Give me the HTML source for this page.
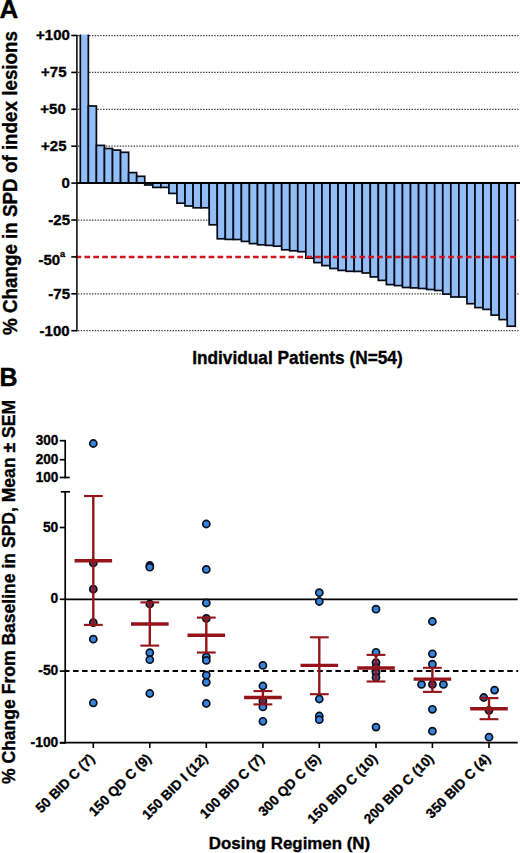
<!DOCTYPE html>
<html><head><meta charset="utf-8"><style>
html,body{margin:0;padding:0;background:#fff;}
svg{display:block;}
text{font-family:"Liberation Sans", sans-serif;fill:#000;stroke:#000;stroke-width:0.35px;}
</style></head><body>
<svg width="520" height="853" viewBox="0 0 520 853">
<rect width="520" height="853" fill="#fff"/>
<line x1="78" y1="35.5" x2="518.5" y2="35.5" stroke="#3a3a3a" stroke-width="1.25" stroke-dasharray="1.4 1.38"/>
<line x1="78" y1="72.4" x2="518.5" y2="72.4" stroke="#3a3a3a" stroke-width="1.25" stroke-dasharray="1.4 1.38"/>
<line x1="78" y1="109.3" x2="518.5" y2="109.3" stroke="#3a3a3a" stroke-width="1.25" stroke-dasharray="1.4 1.38"/>
<line x1="78" y1="146.2" x2="518.5" y2="146.2" stroke="#3a3a3a" stroke-width="1.25" stroke-dasharray="1.4 1.38"/>
<line x1="78" y1="220.0" x2="518.5" y2="220.0" stroke="#3a3a3a" stroke-width="1.25" stroke-dasharray="1.4 1.38"/>
<line x1="78" y1="293.8" x2="518.5" y2="293.8" stroke="#3a3a3a" stroke-width="1.25" stroke-dasharray="1.4 1.38"/>
<line x1="78" y1="330.7" x2="518.5" y2="330.7" stroke="#3a3a3a" stroke-width="1.25" stroke-dasharray="1.4 1.38"/>
<rect x="80.30" y="34.60" width="8.05" height="148.50" fill="#92bef5"/>
<path d="M80.30 34.60 V183.10 H88.35 V34.60" fill="none" stroke="#050a18" stroke-width="1.7"/>
<rect x="88.35" y="106.00" width="8.05" height="77.10" fill="#92bef5" stroke="#050a18" stroke-width="1.7"/>
<rect x="96.41" y="145.40" width="8.05" height="37.70" fill="#92bef5" stroke="#050a18" stroke-width="1.7"/>
<rect x="104.47" y="148.50" width="8.05" height="34.60" fill="#92bef5" stroke="#050a18" stroke-width="1.7"/>
<rect x="112.52" y="150.10" width="8.05" height="33.00" fill="#92bef5" stroke="#050a18" stroke-width="1.7"/>
<rect x="120.57" y="152.30" width="8.05" height="30.80" fill="#92bef5" stroke="#050a18" stroke-width="1.7"/>
<rect x="128.63" y="172.60" width="8.05" height="10.50" fill="#92bef5" stroke="#050a18" stroke-width="1.7"/>
<rect x="136.69" y="176.30" width="8.05" height="6.80" fill="#92bef5" stroke="#050a18" stroke-width="1.7"/>
<rect x="144.74" y="183.10" width="8.05" height="1.90" fill="#92bef5" stroke="#050a18" stroke-width="1.7"/>
<rect x="152.80" y="183.10" width="8.05" height="4.30" fill="#92bef5" stroke="#050a18" stroke-width="1.7"/>
<rect x="160.85" y="183.10" width="8.05" height="4.30" fill="#92bef5" stroke="#050a18" stroke-width="1.7"/>
<rect x="168.90" y="183.10" width="8.05" height="10.30" fill="#92bef5" stroke="#050a18" stroke-width="1.7"/>
<rect x="176.96" y="183.10" width="8.05" height="20.10" fill="#92bef5" stroke="#050a18" stroke-width="1.7"/>
<rect x="185.01" y="183.10" width="8.05" height="22.90" fill="#92bef5" stroke="#050a18" stroke-width="1.7"/>
<rect x="193.07" y="183.10" width="8.05" height="24.70" fill="#92bef5" stroke="#050a18" stroke-width="1.7"/>
<rect x="201.12" y="183.10" width="8.05" height="24.70" fill="#92bef5" stroke="#050a18" stroke-width="1.7"/>
<rect x="209.18" y="183.10" width="8.05" height="41.70" fill="#92bef5" stroke="#050a18" stroke-width="1.7"/>
<rect x="217.24" y="183.10" width="8.05" height="55.70" fill="#92bef5" stroke="#050a18" stroke-width="1.7"/>
<rect x="225.29" y="183.10" width="8.05" height="56.30" fill="#92bef5" stroke="#050a18" stroke-width="1.7"/>
<rect x="233.34" y="183.10" width="8.05" height="56.40" fill="#92bef5" stroke="#050a18" stroke-width="1.7"/>
<rect x="241.40" y="183.10" width="8.05" height="58.30" fill="#92bef5" stroke="#050a18" stroke-width="1.7"/>
<rect x="249.45" y="183.10" width="8.05" height="60.50" fill="#92bef5" stroke="#050a18" stroke-width="1.7"/>
<rect x="257.51" y="183.10" width="8.05" height="61.70" fill="#92bef5" stroke="#050a18" stroke-width="1.7"/>
<rect x="265.56" y="183.10" width="8.05" height="62.30" fill="#92bef5" stroke="#050a18" stroke-width="1.7"/>
<rect x="273.62" y="183.10" width="8.05" height="63.10" fill="#92bef5" stroke="#050a18" stroke-width="1.7"/>
<rect x="281.68" y="183.10" width="8.05" height="66.70" fill="#92bef5" stroke="#050a18" stroke-width="1.7"/>
<rect x="289.73" y="183.10" width="8.05" height="67.70" fill="#92bef5" stroke="#050a18" stroke-width="1.7"/>
<rect x="297.78" y="183.10" width="8.05" height="68.60" fill="#92bef5" stroke="#050a18" stroke-width="1.7"/>
<rect x="305.84" y="183.10" width="8.05" height="75.10" fill="#92bef5" stroke="#050a18" stroke-width="1.7"/>
<rect x="313.89" y="183.10" width="8.05" height="79.50" fill="#92bef5" stroke="#050a18" stroke-width="1.7"/>
<rect x="321.95" y="183.10" width="8.05" height="82.50" fill="#92bef5" stroke="#050a18" stroke-width="1.7"/>
<rect x="330.00" y="183.10" width="8.05" height="85.40" fill="#92bef5" stroke="#050a18" stroke-width="1.7"/>
<rect x="338.06" y="183.10" width="8.05" height="87.30" fill="#92bef5" stroke="#050a18" stroke-width="1.7"/>
<rect x="346.12" y="183.10" width="8.05" height="88.20" fill="#92bef5" stroke="#050a18" stroke-width="1.7"/>
<rect x="354.17" y="183.10" width="8.05" height="88.30" fill="#92bef5" stroke="#050a18" stroke-width="1.7"/>
<rect x="362.23" y="183.10" width="8.05" height="89.90" fill="#92bef5" stroke="#050a18" stroke-width="1.7"/>
<rect x="370.28" y="183.10" width="8.05" height="93.80" fill="#92bef5" stroke="#050a18" stroke-width="1.7"/>
<rect x="378.33" y="183.10" width="8.05" height="97.30" fill="#92bef5" stroke="#050a18" stroke-width="1.7"/>
<rect x="386.39" y="183.10" width="8.05" height="101.50" fill="#92bef5" stroke="#050a18" stroke-width="1.7"/>
<rect x="394.44" y="183.10" width="8.05" height="102.50" fill="#92bef5" stroke="#050a18" stroke-width="1.7"/>
<rect x="402.50" y="183.10" width="8.05" height="104.40" fill="#92bef5" stroke="#050a18" stroke-width="1.7"/>
<rect x="410.56" y="183.10" width="8.05" height="104.80" fill="#92bef5" stroke="#050a18" stroke-width="1.7"/>
<rect x="418.61" y="183.10" width="8.05" height="105.40" fill="#92bef5" stroke="#050a18" stroke-width="1.7"/>
<rect x="426.67" y="183.10" width="8.05" height="106.40" fill="#92bef5" stroke="#050a18" stroke-width="1.7"/>
<rect x="434.72" y="183.10" width="8.05" height="107.40" fill="#92bef5" stroke="#050a18" stroke-width="1.7"/>
<rect x="442.77" y="183.10" width="8.05" height="111.00" fill="#92bef5" stroke="#050a18" stroke-width="1.7"/>
<rect x="450.83" y="183.10" width="8.05" height="113.90" fill="#92bef5" stroke="#050a18" stroke-width="1.7"/>
<rect x="458.88" y="183.10" width="8.05" height="113.90" fill="#92bef5" stroke="#050a18" stroke-width="1.7"/>
<rect x="466.94" y="183.10" width="8.05" height="120.60" fill="#92bef5" stroke="#050a18" stroke-width="1.7"/>
<rect x="475.00" y="183.10" width="8.05" height="124.50" fill="#92bef5" stroke="#050a18" stroke-width="1.7"/>
<rect x="483.05" y="183.10" width="8.05" height="126.30" fill="#92bef5" stroke="#050a18" stroke-width="1.7"/>
<rect x="491.11" y="183.10" width="8.05" height="132.00" fill="#92bef5" stroke="#050a18" stroke-width="1.7"/>
<rect x="499.16" y="183.10" width="8.05" height="136.50" fill="#92bef5" stroke="#050a18" stroke-width="1.7"/>
<rect x="507.21" y="183.10" width="8.05" height="143.10" fill="#92bef5" stroke="#050a18" stroke-width="1.7"/>
<line x1="76.9" y1="183.1" x2="520" y2="183.1" stroke="#000" stroke-width="2"/>
<line x1="75.55" y1="257.1" x2="516" y2="257.1" stroke="#d3141e" stroke-width="2.5" stroke-dasharray="5.7 3.171"/>
<line x1="76.9" y1="34.7" x2="76.9" y2="331.5" stroke="#000" stroke-width="1.5"/>
<line x1="71.3" y1="35.5" x2="76.9" y2="35.5" stroke="#000" stroke-width="1.6"/>
<text x="69.9" y="40.3" font-size="15" text-anchor="end" font-weight="bold">+100</text>
<line x1="71.3" y1="72.4" x2="76.9" y2="72.4" stroke="#000" stroke-width="1.6"/>
<text x="66.5" y="77.2" font-size="15" text-anchor="end" font-weight="bold">+75</text>
<line x1="71.3" y1="109.3" x2="76.9" y2="109.3" stroke="#000" stroke-width="1.6"/>
<text x="65.8" y="114.1" font-size="15" text-anchor="end" font-weight="bold">+50</text>
<line x1="71.3" y1="146.2" x2="76.9" y2="146.2" stroke="#000" stroke-width="1.6"/>
<text x="66.5" y="151.0" font-size="15" text-anchor="end" font-weight="bold">+25</text>
<line x1="71.3" y1="183.1" x2="76.9" y2="183.1" stroke="#000" stroke-width="1.6"/>
<text x="69.8" y="187.9" font-size="15" text-anchor="end" font-weight="bold">0</text>
<line x1="71.3" y1="220.0" x2="76.9" y2="220.0" stroke="#000" stroke-width="1.6"/>
<text x="70.0" y="224.8" font-size="15" text-anchor="end" font-weight="bold">-25</text>
<line x1="71.3" y1="256.9" x2="76.9" y2="256.9" stroke="#000" stroke-width="1.6"/>
<text x="60.1" y="264.6" font-size="15" text-anchor="end" font-weight="bold">-50</text>
<text x="60.0" y="257.3" font-size="9.2" font-weight="bold">a</text>
<line x1="71.3" y1="293.8" x2="76.9" y2="293.8" stroke="#000" stroke-width="1.6"/>
<text x="70.0" y="298.6" font-size="15" text-anchor="end" font-weight="bold">-75</text>
<line x1="71.3" y1="330.7" x2="76.9" y2="330.7" stroke="#000" stroke-width="1.6"/>
<text x="69.6" y="335.5" font-size="15" text-anchor="end" font-weight="bold">-100</text>
<text x="-0.6" y="17.8" font-size="26" font-weight="bold">A</text>
<text transform="translate(17.2,335) rotate(-90)" font-size="20" font-weight="bold" textLength="304" lengthAdjust="spacingAndGlyphs">% Change in SPD of index lesions</text>
<text x="192.2" y="364.2" font-size="17.6" font-weight="bold" textLength="210.5" lengthAdjust="spacingAndGlyphs">Individual Patients (N=54)</text>
<text x="-0.6" y="386" font-size="25" font-weight="bold">B</text>
<text transform="translate(14.8,784) rotate(-90)" font-size="18" font-weight="bold" textLength="384" lengthAdjust="spacingAndGlyphs">% Change From Baseline in SPD, Mean ± SEM</text>
<line x1="65.2" y1="599.3" x2="517.7" y2="599.3" stroke="#000" stroke-width="1.7"/>
<line x1="65.2" y1="671.1" x2="518.2" y2="671.1" stroke="#000" stroke-width="2" stroke-dasharray="5.5 3.546" stroke-dashoffset="1.2"/>
<line x1="59.800000000000004" y1="742.7" x2="517.7" y2="742.7" stroke="#000" stroke-width="1.7"/>
<line x1="65.2" y1="491.8" x2="65.2" y2="743.5" stroke="#000" stroke-width="1.7"/>
<line x1="60.8" y1="491.8" x2="70" y2="491.8" stroke="#000" stroke-width="1.7"/>
<line x1="59.8" y1="527.5" x2="65.2" y2="527.5" stroke="#000" stroke-width="1.7"/>
<text transform="translate(58.3,531.6) scale(0.95,1)" font-size="14.6" text-anchor="end" font-weight="bold">50</text>
<line x1="59.8" y1="599.3" x2="65.2" y2="599.3" stroke="#000" stroke-width="1.7"/>
<text transform="translate(58.3,603.4) scale(0.95,1)" font-size="14.6" text-anchor="end" font-weight="bold">0</text>
<line x1="59.8" y1="671.1" x2="65.2" y2="671.1" stroke="#000" stroke-width="1.7"/>
<text transform="translate(58.3,675.2) scale(0.95,1)" font-size="14.6" text-anchor="end" font-weight="bold">-50</text>
<line x1="59.8" y1="742.9" x2="65.2" y2="742.9" stroke="#000" stroke-width="1.7"/>
<text transform="translate(58.3,747.0) scale(0.95,1)" font-size="14.6" text-anchor="end" font-weight="bold">-100</text>
<line x1="65.2" y1="439.9" x2="65.2" y2="478.3" stroke="#000" stroke-width="1.7"/>
<line x1="65.2" y1="477.5" x2="69.8" y2="477.5" stroke="#000" stroke-width="1.7"/>
<line x1="59.8" y1="440.7" x2="65.2" y2="440.7" stroke="#000" stroke-width="1.7"/>
<text transform="translate(58.4,444.9) scale(0.965,1)" font-size="14.1" text-anchor="end" font-weight="bold">300</text>
<line x1="59.8" y1="459.7" x2="65.2" y2="459.7" stroke="#000" stroke-width="1.7"/>
<text transform="translate(58.4,464.3) scale(0.965,1)" font-size="14.1" text-anchor="end" font-weight="bold">200</text>
<line x1="59.8" y1="477.5" x2="65.2" y2="477.5" stroke="#000" stroke-width="1.7"/>
<text transform="translate(58.4,482.4) scale(0.965,1)" font-size="14.1" text-anchor="end" font-weight="bold">100</text>
<circle cx="93.3" cy="443.5" r="3.55" fill="#3884dc" stroke="#07101e" stroke-width="1.7"/>
<circle cx="93.3" cy="563" r="3.55" fill="#5c3c66" stroke="#07101e" stroke-width="1.7"/>
<circle cx="93.3" cy="589.2" r="3.55" fill="#5c3c66" stroke="#07101e" stroke-width="1.7"/>
<circle cx="93.3" cy="622.7" r="3.55" fill="#5c3c66" stroke="#07101e" stroke-width="1.7"/>
<circle cx="93.3" cy="639.2" r="3.55" fill="#3884dc" stroke="#07101e" stroke-width="1.7"/>
<circle cx="93.3" cy="702.8" r="3.55" fill="#3884dc" stroke="#07101e" stroke-width="1.7"/>
<circle cx="149.8" cy="565.5" r="3.55" fill="#3884dc" stroke="#07101e" stroke-width="1.7"/>
<circle cx="149.8" cy="567.2" r="3.55" fill="#3884dc" stroke="#07101e" stroke-width="1.7"/>
<circle cx="149.8" cy="604" r="3.55" fill="#5c3c66" stroke="#07101e" stroke-width="1.7"/>
<circle cx="149.8" cy="652.7" r="3.55" fill="#3884dc" stroke="#07101e" stroke-width="1.7"/>
<circle cx="149.8" cy="659.7" r="3.55" fill="#3884dc" stroke="#07101e" stroke-width="1.7"/>
<circle cx="149.8" cy="693.5" r="3.55" fill="#3884dc" stroke="#07101e" stroke-width="1.7"/>
<circle cx="206.3" cy="524.0" r="3.55" fill="#3884dc" stroke="#07101e" stroke-width="1.7"/>
<circle cx="206.3" cy="569.4" r="3.55" fill="#3884dc" stroke="#07101e" stroke-width="1.7"/>
<circle cx="206.3" cy="603" r="3.55" fill="#3884dc" stroke="#07101e" stroke-width="1.7"/>
<circle cx="206.3" cy="618.4" r="3.55" fill="#5c3c66" stroke="#07101e" stroke-width="1.7"/>
<circle cx="206.3" cy="656.9" r="3.55" fill="#3884dc" stroke="#07101e" stroke-width="1.7"/>
<circle cx="206.3" cy="660.4" r="3.55" fill="#3884dc" stroke="#07101e" stroke-width="1.7"/>
<circle cx="206.3" cy="675.2" r="3.55" fill="#3884dc" stroke="#07101e" stroke-width="1.7"/>
<circle cx="206.3" cy="682.3" r="3.55" fill="#3884dc" stroke="#07101e" stroke-width="1.7"/>
<circle cx="206.3" cy="703.5" r="3.55" fill="#3884dc" stroke="#07101e" stroke-width="1.7"/>
<circle cx="262.9" cy="665.4" r="3.55" fill="#3884dc" stroke="#07101e" stroke-width="1.7"/>
<circle cx="262.9" cy="686" r="3.55" fill="#3884dc" stroke="#07101e" stroke-width="1.7"/>
<circle cx="262.9" cy="701.2" r="3.55" fill="#5c3c66" stroke="#07101e" stroke-width="1.7"/>
<circle cx="262.9" cy="706.9" r="3.55" fill="#3884dc" stroke="#07101e" stroke-width="1.7"/>
<circle cx="262.9" cy="721.3" r="3.55" fill="#3884dc" stroke="#07101e" stroke-width="1.7"/>
<circle cx="319.3" cy="592.7" r="3.55" fill="#3884dc" stroke="#07101e" stroke-width="1.7"/>
<circle cx="319.3" cy="601.5" r="3.55" fill="#3884dc" stroke="#07101e" stroke-width="1.7"/>
<circle cx="319.3" cy="699" r="3.55" fill="#3884dc" stroke="#07101e" stroke-width="1.7"/>
<circle cx="319.3" cy="716" r="3.55" fill="#3884dc" stroke="#07101e" stroke-width="1.7"/>
<circle cx="319.3" cy="719.7" r="3.55" fill="#3884dc" stroke="#07101e" stroke-width="1.7"/>
<circle cx="376.0" cy="609.2" r="3.55" fill="#3884dc" stroke="#07101e" stroke-width="1.7"/>
<circle cx="376.0" cy="652.3" r="3.55" fill="#3884dc" stroke="#07101e" stroke-width="1.7"/>
<circle cx="376.0" cy="662.6" r="3.55" fill="#52579a" stroke="#07101e" stroke-width="1.7"/>
<circle cx="376.0" cy="667.5" r="3.55" fill="#52579a" stroke="#07101e" stroke-width="1.7"/>
<circle cx="376.0" cy="672.7" r="3.55" fill="#52579a" stroke="#07101e" stroke-width="1.7"/>
<circle cx="376.0" cy="677.5" r="3.55" fill="#52579a" stroke="#07101e" stroke-width="1.7"/>
<circle cx="376.0" cy="727.1" r="3.55" fill="#3884dc" stroke="#07101e" stroke-width="1.7"/>
<circle cx="432.4" cy="621.5" r="3.55" fill="#3884dc" stroke="#07101e" stroke-width="1.7"/>
<circle cx="432.4" cy="653.8" r="3.55" fill="#3884dc" stroke="#07101e" stroke-width="1.7"/>
<circle cx="432.4" cy="664.2" r="3.55" fill="#3884dc" stroke="#07101e" stroke-width="1.7"/>
<circle cx="432.4" cy="684.4" r="3.55" fill="#5c3c66" stroke="#07101e" stroke-width="1.7"/>
<circle cx="432.4" cy="709.3" r="3.55" fill="#3884dc" stroke="#07101e" stroke-width="1.7"/>
<circle cx="432.4" cy="731.2" r="3.55" fill="#3884dc" stroke="#07101e" stroke-width="1.7"/>
<circle cx="489.0" cy="710.3" r="3.55" fill="#5c3c66" stroke="#07101e" stroke-width="1.7"/>
<circle cx="489.0" cy="737.2" r="3.55" fill="#3884dc" stroke="#07101e" stroke-width="1.7"/>
<circle cx="421.5" cy="684.4" r="3.55" fill="#3884dc" stroke="#07101e" stroke-width="1.7"/>
<circle cx="443.4" cy="684.4" r="3.55" fill="#3884dc" stroke="#07101e" stroke-width="1.7"/>
<circle cx="483.75" cy="697.5" r="3.55" fill="#52579a" stroke="#07101e" stroke-width="1.7"/>
<circle cx="494.6" cy="690.1" r="3.55" fill="#3884dc" stroke="#07101e" stroke-width="1.7"/>
<line x1="93.3" y1="496" x2="93.3" y2="624.9" stroke="#941419" stroke-width="2.4"/>
<line x1="83.89999999999999" y1="496" x2="102.7" y2="496" stroke="#941419" stroke-width="2.1"/>
<line x1="83.89999999999999" y1="624.9" x2="102.7" y2="624.9" stroke="#941419" stroke-width="2.1"/>
<line x1="74.5" y1="560.8" x2="112.1" y2="560.8" stroke="#941419" stroke-width="3.4"/>
<line x1="93.3" y1="742.7" x2="93.3" y2="748" stroke="#000" stroke-width="1.6"/>
<text transform="translate(95.5,759.5) rotate(-45)" font-size="13.7" font-weight="bold" text-anchor="end">50 BID C (7)</text>
<line x1="149.8" y1="602.4" x2="149.8" y2="645.6" stroke="#941419" stroke-width="2.4"/>
<line x1="140.4" y1="602.4" x2="159.20000000000002" y2="602.4" stroke="#941419" stroke-width="2.1"/>
<line x1="140.4" y1="645.6" x2="159.20000000000002" y2="645.6" stroke="#941419" stroke-width="2.1"/>
<line x1="131.0" y1="624" x2="168.60000000000002" y2="624" stroke="#941419" stroke-width="3.4"/>
<line x1="149.8" y1="742.7" x2="149.8" y2="748" stroke="#000" stroke-width="1.6"/>
<text transform="translate(152.0,759.5) rotate(-45)" font-size="13.7" font-weight="bold" text-anchor="end">150 QD C (9)</text>
<line x1="206.3" y1="617.6" x2="206.3" y2="652.5" stroke="#941419" stroke-width="2.4"/>
<line x1="196.9" y1="617.6" x2="215.70000000000002" y2="617.6" stroke="#941419" stroke-width="2.1"/>
<line x1="196.9" y1="652.5" x2="215.70000000000002" y2="652.5" stroke="#941419" stroke-width="2.1"/>
<line x1="187.5" y1="635.3" x2="225.10000000000002" y2="635.3" stroke="#941419" stroke-width="3.4"/>
<line x1="206.3" y1="742.7" x2="206.3" y2="748" stroke="#000" stroke-width="1.6"/>
<text transform="translate(208.5,759.5) rotate(-45)" font-size="13.7" font-weight="bold" text-anchor="end">150 BID I (12)</text>
<line x1="262.9" y1="691.1" x2="262.9" y2="704.4" stroke="#941419" stroke-width="2.4"/>
<line x1="253.49999999999997" y1="691.1" x2="272.29999999999995" y2="691.1" stroke="#941419" stroke-width="2.1"/>
<line x1="253.49999999999997" y1="704.4" x2="272.29999999999995" y2="704.4" stroke="#941419" stroke-width="2.1"/>
<line x1="244.09999999999997" y1="697.5" x2="281.7" y2="697.5" stroke="#941419" stroke-width="3.4"/>
<line x1="262.9" y1="742.7" x2="262.9" y2="748" stroke="#000" stroke-width="1.6"/>
<text transform="translate(265.09999999999997,759.5) rotate(-45)" font-size="13.7" font-weight="bold" text-anchor="end">100 BID C (7)</text>
<line x1="319.3" y1="637.3" x2="319.3" y2="694.2" stroke="#941419" stroke-width="2.4"/>
<line x1="309.90000000000003" y1="637.3" x2="328.7" y2="637.3" stroke="#941419" stroke-width="2.1"/>
<line x1="309.90000000000003" y1="694.2" x2="328.7" y2="694.2" stroke="#941419" stroke-width="2.1"/>
<line x1="300.5" y1="665.4" x2="338.1" y2="665.4" stroke="#941419" stroke-width="3.4"/>
<line x1="319.3" y1="742.7" x2="319.3" y2="748" stroke="#000" stroke-width="1.6"/>
<text transform="translate(321.5,759.5) rotate(-45)" font-size="13.7" font-weight="bold" text-anchor="end">300 QD C (5)</text>
<line x1="376.0" y1="654.9" x2="376.0" y2="681.5" stroke="#941419" stroke-width="2.4"/>
<line x1="366.6" y1="654.9" x2="385.4" y2="654.9" stroke="#941419" stroke-width="2.1"/>
<line x1="366.6" y1="681.5" x2="385.4" y2="681.5" stroke="#941419" stroke-width="2.1"/>
<line x1="357.2" y1="668.0" x2="394.8" y2="668.0" stroke="#941419" stroke-width="3.4"/>
<line x1="376.0" y1="742.7" x2="376.0" y2="748" stroke="#000" stroke-width="1.6"/>
<text transform="translate(378.2,759.5) rotate(-45)" font-size="13.7" font-weight="bold" text-anchor="end">150 BID C (10)</text>
<line x1="432.4" y1="667.8" x2="432.4" y2="691.9" stroke="#941419" stroke-width="2.4"/>
<line x1="423.0" y1="667.8" x2="441.79999999999995" y2="667.8" stroke="#941419" stroke-width="2.1"/>
<line x1="423.0" y1="691.9" x2="441.79999999999995" y2="691.9" stroke="#941419" stroke-width="2.1"/>
<line x1="413.59999999999997" y1="679.1" x2="451.2" y2="679.1" stroke="#941419" stroke-width="3.4"/>
<line x1="432.4" y1="742.7" x2="432.4" y2="748" stroke="#000" stroke-width="1.6"/>
<text transform="translate(434.59999999999997,759.5) rotate(-45)" font-size="13.7" font-weight="bold" text-anchor="end">200 BID C (10)</text>
<line x1="489.0" y1="698.1" x2="489.0" y2="719.2" stroke="#941419" stroke-width="2.4"/>
<line x1="479.6" y1="698.1" x2="498.4" y2="698.1" stroke="#941419" stroke-width="2.1"/>
<line x1="479.6" y1="719.2" x2="498.4" y2="719.2" stroke="#941419" stroke-width="2.1"/>
<line x1="470.2" y1="708.7" x2="507.8" y2="708.7" stroke="#941419" stroke-width="3.4"/>
<line x1="489.0" y1="742.7" x2="489.0" y2="748" stroke="#000" stroke-width="1.6"/>
<text transform="translate(491.2,759.5) rotate(-45)" font-size="13.7" font-weight="bold" text-anchor="end">350 BID C (4)</text>
<text x="208.8" y="848.8" font-size="17.4" font-weight="bold" textLength="161.4" lengthAdjust="spacingAndGlyphs">Dosing Regimen (N)</text>
</svg>
</body></html>
